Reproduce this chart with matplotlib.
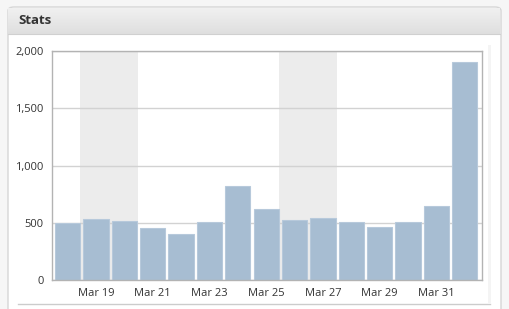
import numpy as np
import matplotlib
matplotlib.use("Agg")
import matplotlib.pyplot as plt
from matplotlib.patches import Rectangle, FancyBboxPatch
from matplotlib.ticker import FuncFormatter

# donnees
days = ["Mar 18", "Mar 19", "Mar 20", "Mar 21", "Mar 22", "Mar 23", "Mar 24", "Mar 25",
        "Mar 26", "Mar 27", "Mar 28", "Mar 29", "Mar 30", "Mar 31", "Apr 1"]
visits = [495, 531, 513, 455, 400, 505, 822, 621, 522, 542, 507, 466, 507, 650, 1906]
weekends = [("Mar 19", "Mar 20"), ("Mar 26", "Mar 27")]
yticks = [0, 500, 1000, 1500, 2000]
title = "Stats"

W, H = 510, 309
fig = plt.figure(figsize=(W / 100, H / 100), dpi=100)
fig.patch.set_facecolor("#f6f6f6")

def fx(px):
    return px / W

def fy(py):
    return 1 - py / H

# panel blanc (zorder negatif pour rester sous les axes)
panel = FancyBboxPatch((fx(8), fy(320)), fx(493), (320 - 7) / H,
                       boxstyle="round,pad=0,rounding_size=0.012",
                       transform=fig.transFigure, facecolor="white",
                       edgecolor="#d6d6d6", linewidth=1, zorder=-2)
fig.patches.append(panel)
fig.patches.append(Rectangle((fx(488), fy(303)), fx(3), 258 / H, transform=fig.transFigure,
                             facecolor="#f4f4f4", edgecolor="none", zorder=-1))

# entete avec degrade
hax = fig.add_axes([fx(8.5), fy(34), fx(492), 26.5 / H])
grad = np.linspace(0, 1, 50).reshape(-1, 1)
hax.imshow(grad, aspect="auto", cmap=matplotlib.colors.LinearSegmentedColormap.from_list(
    "hdr", ["#f1f1f1", "#dfdfdf"]), extent=[0, 1, 0, 1])
hax.set_axis_off()
hax.text(0.02, 0.5, title, transform=hax.transAxes, fontsize=9.5, fontweight="bold",
         color="#333333", va="center", ha="left", family=["Open Sans", "DejaVu Sans"])
fig.add_artist(plt.Line2D([fx(8.5), fx(500.5)], [fy(34), fy(34)], transform=fig.transFigure,
                          color="#d0d0d0", linewidth=0.8))

# ligne sous le graphique
fig.add_artist(plt.Line2D([fx(18), fx(490)], [fy(303.7), fy(303.7)], transform=fig.transFigure,
                          color="#cccccc", linewidth=1))

# graphique
ax = fig.add_axes([fx(52), fy(280), fx(429.7), (280 - 51.3) / H])
x = np.arange(len(days))
for a, b in weekends:
    i0, i1 = days.index(a), days.index(b)
    ax.axvspan(i0 - 0.55, i1 + 0.48, color="#ececec", zorder=0, linewidth=0)
ax.bar(x, visits, width=0.89, color="#a7bdd2", edgecolor="#b7c9db", linewidth=0.8, zorder=2)

ax.set_xlim(-0.553, 14.6)
ax.set_ylim(0, 2000)
ax.set_yticks(yticks)
ax.yaxis.set_major_formatter(FuncFormatter(lambda v, p: "{:,}".format(int(v))))
ax.set_xticks(x[1:14:2])
ax.set_xticklabels([days[i] for i in range(1, 14, 2)])
ax.grid(axis="y", color="#d2d2d2", linewidth=1, zorder=1)
ax.set_axisbelow(True)
for s in ax.spines.values():
    s.set_color("#b3b3b3")
    s.set_linewidth(1)
ax.tick_params(length=0, labelsize=8, colors="#333333")
ax.tick_params(axis="y", pad=6)
ax.tick_params(axis="x", pad=6)
for lbl in ax.get_xticklabels() + ax.get_yticklabels():
    lbl.set_family(["Open Sans", "DejaVu Sans"])

fig.savefig("out.png", dpi=100, facecolor=fig.get_facecolor())
